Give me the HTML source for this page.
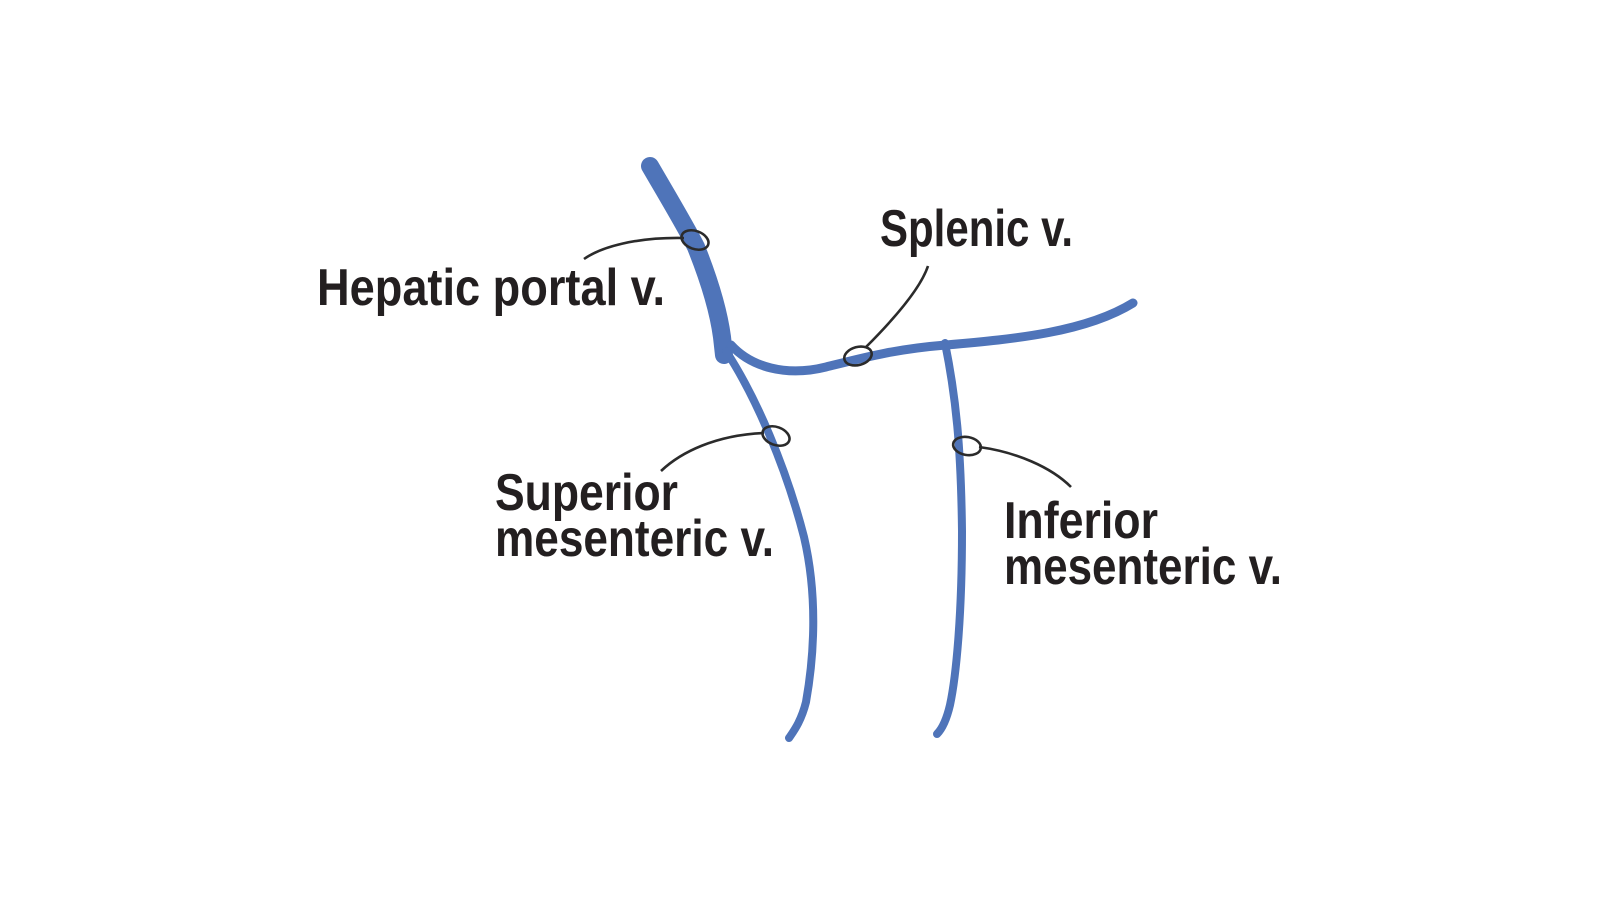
<!DOCTYPE html>
<html><head><meta charset="utf-8"><style>html,body{margin:0;padding:0;background:#fff}svg{display:block}</style></head>
<body>
<svg width="1600" height="900" viewBox="0 0 1600 900" xmlns="http://www.w3.org/2000/svg">
<g transform="translate(-4,-3)">
<g fill="none" stroke="#4f74b9" stroke-linecap="round">
  <path d="M654 169 C672 200 690 230 700 250 C712 280 722 310 726 340 L728 358" stroke-width="18"/>
  <path d="M735 348 C755 370 790 380 830 370 C870 360 900 352 950 348 C1020 342 1090 335 1137 306" stroke-width="9"/>
  <path d="M730 354 C760 400 790 470 808 540 C822 600 818 660 810 705 C805 725 797 735 793 741" stroke-width="8"/>
  <path d="M949 346 C960 400 965 450 966 534 C966 620 960 680 954 708 C950 725 945 733 941 737" stroke-width="8"/>
</g>
<g fill="none" stroke="#2b2b2b" stroke-width="2.6">
  <ellipse cx="699" cy="243" rx="14" ry="9" transform="rotate(20 699 243)"/>
  <ellipse cx="862" cy="359" rx="14" ry="9" transform="rotate(-15 862 359)"/>
  <ellipse cx="780" cy="439" rx="14" ry="9" transform="rotate(20 780 439)"/>
  <ellipse cx="971" cy="449" rx="14" ry="9" transform="rotate(10 971 449)"/>
  <path d="M688 241 C640 240 605 250 588 262"/>
  <path d="M870 350 C900 320 925 290 932 269"/>
  <path d="M768 436 C720 438 685 455 665 474"/>
  <path d="M983 450 C1020 455 1055 470 1075 490"/>
</g>
<g font-family="'Liberation Sans', sans-serif" font-weight="bold" font-size="52" fill="#231f20">
  <text x="321" y="308" textLength="348" lengthAdjust="spacingAndGlyphs">Hepatic portal v.</text>
  <text x="884" y="249" textLength="193" lengthAdjust="spacingAndGlyphs">Splenic v.</text>
  <text x="499" y="513" textLength="183" lengthAdjust="spacingAndGlyphs">Superior</text>
  <text x="499" y="559" textLength="279" lengthAdjust="spacingAndGlyphs">mesenteric v.</text>
  <text x="1008" y="541" textLength="154" lengthAdjust="spacingAndGlyphs">Inferior</text>
  <text x="1008" y="587" textLength="278" lengthAdjust="spacingAndGlyphs">mesenteric v.</text>
</g>
</g>
</svg>
</body></html>
